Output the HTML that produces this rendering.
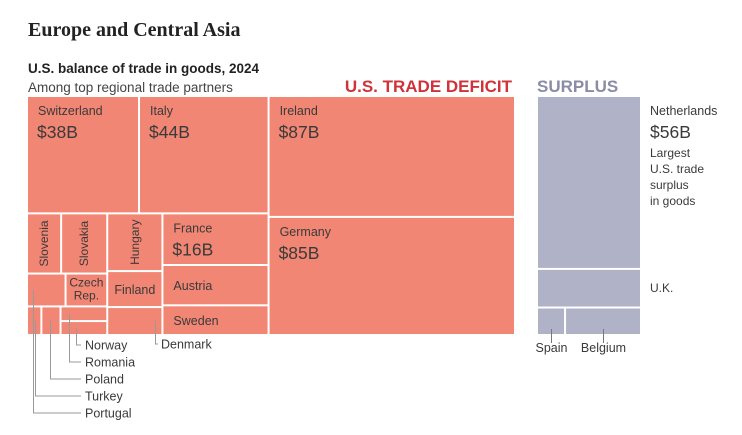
<!DOCTYPE html>
<html><head><meta charset="utf-8">
<style>
body{margin:0;background:#fff;width:742px;height:435px;overflow:hidden;font-family:"Liberation Sans",sans-serif;position:relative}
.t{position:absolute;white-space:nowrap;color:#333}
svg{position:absolute;left:0;top:0}
</style></head><body>
<div class="t" style="left:28px;top:19px;font-family:'Liberation Serif',serif;font-weight:bold;font-size:20px;color:#222">Europe and Central Asia</div>
<div class="t" style="left:28px;top:61px;font-weight:bold;font-size:13.5px;color:#222">U.S. balance of trade in goods, 2024</div>
<div class="t" style="left:28px;top:80px;font-size:13.5px;color:#444">Among top regional trade partners</div>
<div class="t" style="right:230px;top:77px;font-weight:bold;font-size:17px;color:#d0323a">U.S. TRADE DEFICIT</div>
<div class="t" style="left:537px;top:77px;font-weight:bold;font-size:17px;color:#8a8ca6">SURPLUS</div>
<svg id="chart" width="742" height="435"></svg>
<script>
// data (billions of USD)
const deficitNames = ["Switzerland","Italy","Slovenia","Slovakia","Portugal","Czech Rep.","Turkey","Poland","Romania","Norway","Hungary","Finland","Denmark","France","Austria","Sweden","Ireland","Germany"];
const deficitValues = [38.4,44.4,6.0,8.1,3.7,4.0,1.2,1.6,2.0,1.9,9.3,5.8,4.5,16,12.5,9.2,87,85];
const surplusNames = ["Netherlands","U.K.","Spain","Belgium"];
const surplusValues = [56,12.5,2.4,6.5];

const dv = n => ({leaf:n, v:deficitValues[deficitNames.indexOf(n)]});
const sv = n => ({leaf:n, v:surplusValues[surplusNames.indexOf(n)]});
const deficitTree = {d:'h',c:[
  {d:'v',c:[
    {d:'h',c:[dv("Switzerland"),dv("Italy")]},
    {d:'h',c:[
      {d:'v',c:[
        {d:'h',c:[dv("Slovenia"),dv("Slovakia")]},
        {d:'h',c:[dv("Portugal"),dv("Czech Rep.")]},
        {d:'h',c:[dv("Turkey"),dv("Poland"),{d:'v',c:[dv("Romania"),dv("Norway")]}]}
      ]},
      {d:'v',c:[dv("Hungary"),dv("Finland"),dv("Denmark")]},
      {d:'v',c:[dv("France"),dv("Austria"),dv("Sweden")]}
    ]}
  ]},
  {d:'v',c:[dv("Ireland"),dv("Germany")]}
]};
const surplusTree = {d:'v',c:[sv("Netherlands"),sv("U.K."),{d:'h',c:[sv("Spain"),sv("Belgium")]}]};

function sum(n){return n.leaf?n.v:n.c.reduce((a,b)=>a+sum(b),0);}
function layout(n,x,y,w,h,out){
  if(n.leaf){out[n.leaf]={x,y,w,h,v:n.v};return out;}
  const t=sum(n);let o=0;
  n.c.forEach(ch=>{const f=sum(ch)/t;
    if(n.d==='h'){layout(ch,x+o*w,y,f*w,h,out);}else{layout(ch,x,y+o*h,w,f*h,out);}
    o+=f;});
  return out;
}
const svg=document.getElementById('chart');
const NS="http://www.w3.org/2000/svg";
function el(tag,attrs,parent){const e=document.createElementNS(NS,tag);for(const k in attrs)e.setAttribute(k,attrs[k]);(parent||svg).appendChild(e);return e;}
function slug(s){return s.toLowerCase().replace(/[^a-z]+/g,'-').replace(/-$/,'');}
function txt(x,y,s,size,opts){const e=el('text',Object.assign({x,y,'font-size':size,fill:'#3a3a3a','font-family':'Liberation Sans, sans-serif'},opts||{}));e.textContent=s;return e;}

const D=layout(deficitTree,27,96,488,239,{});
const S=layout(surplusTree,537,96,104,239,{});
function drawRects(R,color){
  for(const k in R){const r=R[k];
    const e=el('rect',{x:r.x+1,y:r.y+1,width:Math.max(0,r.w-2),height:Math.max(0,r.h-2),fill:color});
    
    
  }
}
drawRects(D,'#f28674');
drawRects(S,'#b0b2c8');

const big=["Switzerland","Italy","Ireland","Germany","France"];
big.forEach(n=>{const r=D[n];
  const a=txt(r.x+11,r.y+19,n,12.5);
  const b=txt(r.x+10,r.y+42,'$'+Math.round(r.v)+'B',17.5);
});
["Austria","Sweden"].forEach(n=>{const r=D[n];const a=txt(r.x+11,r.y+r.h/2+5,n,12.5);});
["Slovenia","Slovakia","Hungary"].forEach(n=>{const r=D[n];const cx=r.x+r.w/2+4,cy=r.y+r.h/2;
  const a=txt(cx,cy,n,12,{'text-anchor':'middle',transform:`rotate(-90 ${cx} ${cy})`});});
{const r=D["Finland"];const a=txt(r.x+r.w/2,r.y+r.h/2+5,"Finland",12.5,{'text-anchor':'middle'});}
{const r=D["Czech Rep."];const a=txt(r.x+r.w/2,r.y+13,"Czech",12,{'text-anchor':'middle'});
 const b=txt(r.x+r.w/2,r.y+26,"Rep.",12,{'text-anchor':'middle'});}

const leaders=[["Portugal",6,413],["Turkey",8,396],["Poland",9,379],["Romania",8,362],["Norway",15,345]];
leaders.forEach(([n,dx,ly])=>{const r=D[n];const x=Math.round(r.x+dx)+0.5;
  const y0=r.y+r.h/2;
  const p=el('polyline',{points:`${x},${y0} ${x},${ly} 81,${ly}`,fill:'none',stroke:'#999','stroke-width':1});
  
  const t=txt(85,ly+4.5,n,12.5);
});
{const r=D["Denmark"];const x=Math.round(r.x+r.w-7)+0.5;
 const p=el('polyline',{points:`${x},${r.y+r.h/2} ${x},344 158,344`,fill:'none',stroke:'#999','stroke-width':1});
 
 const t=txt(161,348.5,"Denmark",12.5);}

{const r=S["Netherlands"];const lx=r.x+r.w+9;
 const a=txt(lx,r.y+19,"Netherlands",12.5);
 const b=txt(lx,r.y+42,'$'+Math.round(r.v)+'B',17.5);
 ["Largest","U.S. trade","surplus","in goods"].forEach((s,i)=>{const c=txt(lx,r.y+61+i*16,s,12);});}
{const r=S["U.K."];const a=txt(r.x+r.w+9,r.y+r.h/2+4,"U.K.",12);}
["Spain","Belgium"].forEach(n=>{const r=S[n];const x=Math.round(r.x+r.w/2)+0.5;
 const l=el('line',{x1:x,y1:r.y+r.h-6,x2:x,y2:r.y+r.h+8,stroke:'#777','stroke-width':1});
 
 const t=txt(x,352,n,12.5,{'text-anchor':'middle'});});
</script>
</body></html>
